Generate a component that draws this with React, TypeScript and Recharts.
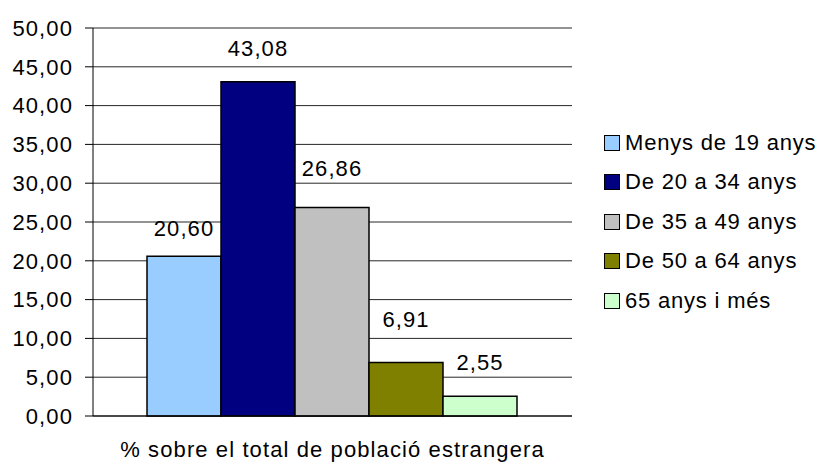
import React from "react";
import {
  Bar,
  BarChart,
  CartesianGrid,
  LabelList,
  Legend,
  XAxis,
  YAxis,
} from "recharts";

const categories = ["% sobre el total de població estrangera"];
const seriesNames = [
  "Menys de 19 anys",
  "De 20 a 34 anys",
  "De 35 a 49 anys",
  "De 50 a 64 anys",
  "65 anys i més",
];
const seriesValues = [20.6, 43.08, 26.86, 6.91, 2.55];
const yTicks = [0, 5, 10, 15, 20, 25, 30, 35, 40, 45, 50];

const colors = ["#99CCFF", "#000080", "#C0C0C0", "#808000", "#CCFFCC"];
const labelOffsets = [20, 26, 32, 35, 26];

const data = categories.map((name) => {
  const row: Record<string, string | number> = { name };
  seriesNames.forEach((s, i) => {
    row[`s${i}`] = seriesValues[i];
  });
  return row;
});

const fmt = (v: number | string) => Number(v).toFixed(2).replace(".", ",");

const FONT = "'Liberation Sans', Arial, sans-serif";
const textStyle = { fontSize: 22, fill: "#000", letterSpacing: 1.1 };

function renderLegend(props: any) {
  const { payload } = props;
  return (
    <div style={{ fontFamily: FONT }}>
      {payload.map((entry: any) => (
        <div
          key={entry.value}
          style={{ display: "flex", alignItems: "center", height: 39.5 }}
        >
          <span
            style={{
              display: "inline-block",
              width: 14,
              height: 14,
              background: entry.color,
              border: "1.5px solid #000",
              marginRight: 5,
            }}
          />
          <span style={{ fontSize: 22, letterSpacing: 0.8, color: "#000" }}>
            {entry.value}
          </span>
        </div>
      ))}
    </div>
  );
}

export default function App() {
  return (
    <div
      style={{
        position: "absolute",
        left: 0,
        top: 0,
        background: "#fff",
        fontFamily: FONT,
      }}
    >
      <BarChart
        width={822}
        height={464}
        data={data}
        margin={{ top: 28, right: 32, bottom: 0, left: 0 }}
        barCategoryGap={54}
        barGap={0}
      >
        <CartesianGrid vertical={false} stroke="#000" strokeOpacity={0.85} />
        <XAxis
          xAxisId="edge"
          type="number"
          domain={[0, 1]}
          ticks={[0, 1]}
          height={0}
          axisLine={false}
          tick={false}
          tickSize={8}
          tickLine={{ stroke: "#000" }}
        />
        <XAxis
          dataKey="name"
          height={48}
          axisLine={{ stroke: "#000" }}
          tickLine={false}
          tickMargin={19}
          tick={textStyle}
        />
        <YAxis
          width={93}
          domain={[0, 50]}
          ticks={yTicks}
          tickFormatter={fmt}
          axisLine={{ stroke: "#000" }}
          tickLine={{ stroke: "#000" }}
          tickSize={8}
          tickMargin={12}
          tick={textStyle}
          interval={0}
        />
        <Legend
          layout="vertical"
          align="right"
          verticalAlign="top"
          content={renderLegend}
          itemSorter={(item: any) => seriesNames.indexOf(item.value)}
          wrapperStyle={{ left: 604, top: 123, width: 218 }}
        />
        {seriesNames.map((s, i) => (
          <Bar
            key={s}
            dataKey={`s${i}`}
            name={s}
            fill={colors[i]}
            stroke="#000"
            strokeWidth={1.5}
            isAnimationActive={false}
          >
            <LabelList
              dataKey={`s${i}`}
              position="top"
              offset={labelOffsets[i]}
              formatter={fmt}
              style={textStyle}
            />
          </Bar>
        ))}
      </BarChart>
    </div>
  );
}
